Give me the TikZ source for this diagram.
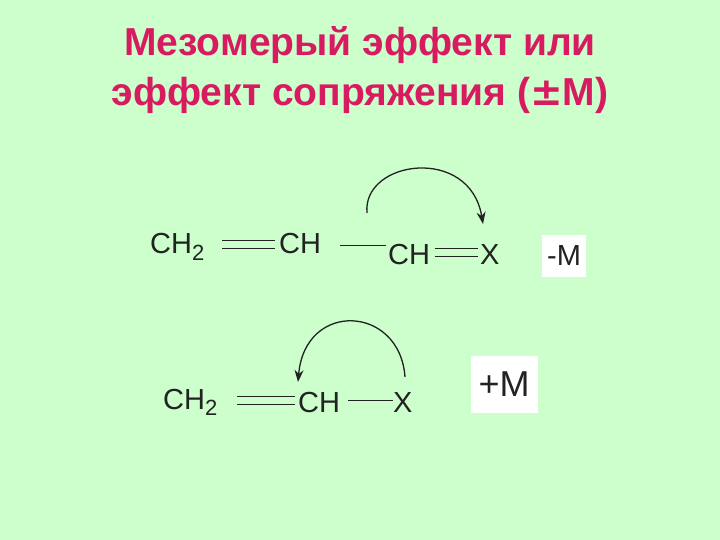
\documentclass[tikz,border=0pt]{standalone}
\usepackage{fontspec}
\setmainfont{Liberation Sans}
\usetikzlibrary{arrows.meta}
\definecolor{bg}{HTML}{CCFFCC}
\definecolor{ttl}{HTML}{D81B60}
\definecolor{bondc}{HTML}{222222}
\tikzset{
  chem/.style={font=\fontsize{29}{32}\selectfont, text=bondc, inner sep=0pt, anchor=base west},
  bond/.style={line width=1pt, draw=bondc},
  effbox/.style={fill=white, inner sep=2pt, font=\fontsize{29}{32}\selectfont, text=bondc},
  curly/.style={line width=1.3pt, draw=bondc, -{Stealth[length=12pt,width=9pt]}}
}
\begin{document}
\begin{tikzpicture}[x=1pt,y=-1pt]
\useasboundingbox[fill=bg] (0,0) rectangle (720,540);
\node[font=\bfseries\fontsize{39}{50}\selectfont, text=ttl, align=center] (title) at (360,70)
  {Мезомерый эффект или\\эффект сопряжения ({\fontspec{DejaVu Sans}\bfseries ±}M)};
% row 1
\node[chem] (a1) at (150,254) {CH\textsubscript{\fontsize{22}{24}\selectfont 2}};
\node[chem] (a2) at (279,254) {CH};
\node[chem] (a3) at (388,264) {CH};
\node[chem] (a4) at (480,264) {X};
\draw[bond] (222,240) -- (275,240) (222,248) -- (275,248);
\draw[bond] (340,245) -- (386,245);
\draw[bond] (435,248) -- (478,248) (435,256) -- (478,256);
\node[effbox, minimum width=44pt, minimum height=42pt] (m1) at (564,256) {-M};
\coordinate (s1) at (367,213);
\coordinate (e1) at (483,224);
\draw[curly] (s1) .. controls (362,160) and (470,145) .. (e1);
% row 2
\node[chem] (b1) at (163,409) {CH\textsubscript{\fontsize{22}{24}\selectfont 2}};
\node[chem] (b2) at (298,412) {CH};
\node[chem] (b3) at (393,412) {X};
\draw[bond] (237,396) -- (295,396) (237,404) -- (295,404);
\draw[bond] (348,400) -- (393,400);
\node[effbox, minimum width=67pt, minimum height=57pt, font=\fontsize{36}{40}\selectfont] (m2) at (504,384) {+M};
\coordinate (s2) at (405,377);
\coordinate (e2) at (298,382);
\draw[curly] (s2) .. controls (400,305) and (305,300) .. (e2);
\end{tikzpicture}
\end{document}
